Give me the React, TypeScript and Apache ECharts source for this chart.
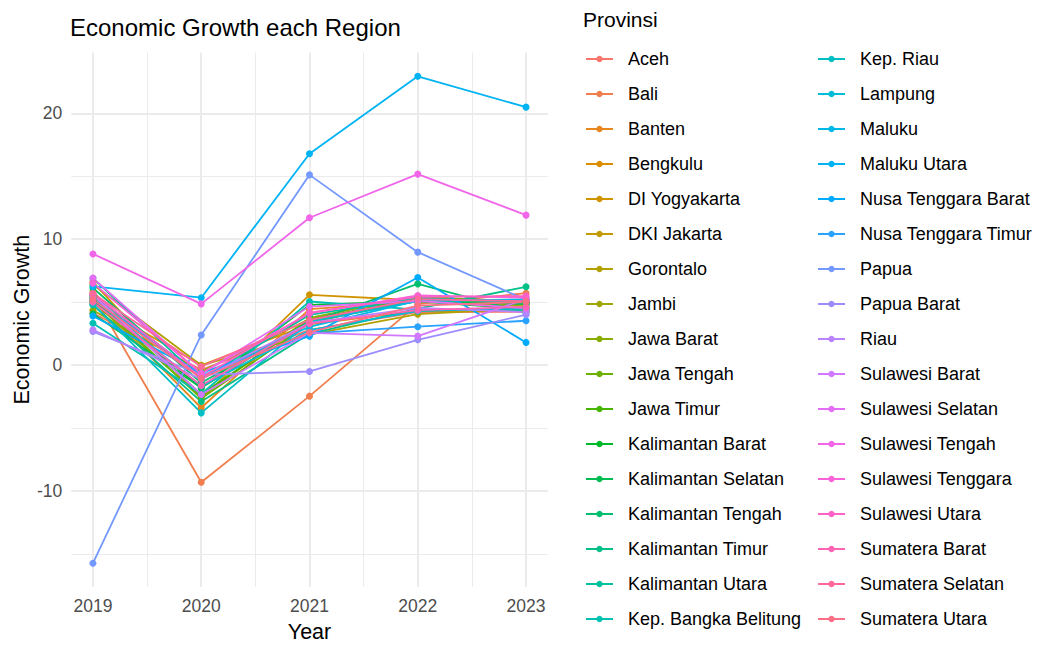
import React, { useEffect, useRef } from "react";
import * as echarts from "echarts";

const years = [2019, 2020, 2021, 2022, 2023];

const provinces = [
  "Aceh", "Bali", "Banten", "Bengkulu", "DI Yogyakarta", "DKI Jakarta", "Gorontalo",
  "Jambi", "Jawa Barat", "Jawa Tengah", "Jawa Timur", "Kalimantan Barat",
  "Kalimantan Selatan", "Kalimantan Tengah", "Kalimantan Timur", "Kalimantan Utara",
  "Kep. Bangka Belitung", "Kep. Riau", "Lampung", "Maluku", "Maluku Utara",
  "Nusa Tenggara Barat", "Nusa Tenggara Timur", "Papua", "Papua Barat", "Riau",
  "Sulawesi Barat", "Sulawesi Selatan", "Sulawesi Tengah", "Sulawesi Tenggara",
  "Sulawesi Utara", "Sumatera Barat", "Sumatera Selatan", "Sumatera Utara",
];

const growth2019 = [4.14, 5.6, 5.26, 4.94, 6.59, 5.82, 6.4, 4.35, 5.02, 5.36, 5.52, 5.09, 4.08, 6.12, 4.77, 6.89, 3.32, 4.84, 5.26, 5.57, 6.25, 3.9, 5.25, -15.74, 2.66, 2.81, 5.56, 6.91, 8.83, 6.51, 5.65, 5.01, 5.69, 5.22];
const growth2020 = [-0.37, -9.31, -3.39, -0.02, -2.69, -2.39, -0.02, -0.51, -2.52, -2.65, -2.33, -1.82, -1.81, -1.41, -2.9, -1.09, -2.3, -3.8, -1.67, -0.92, 5.35, -0.62, -0.83, 2.39, -0.77, -1.13, -2.34, -0.7, 4.86, -0.65, -0.99, -1.62, -0.11, -1.07];
const growth2021 = [2.79, -2.47, 4.44, 3.24, 5.58, 3.56, 2.41, 3.66, 3.74, 3.33, 3.57, 4.78, 3.48, 3.4, 2.48, 3.98, 5.05, 3.43, 2.77, 3.04, 16.79, 2.3, 2.51, 15.11, -0.51, 3.36, 2.56, 4.65, 11.7, 4.1, 4.16, 3.29, 3.58, 2.61];
const growth2022 = [4.21, 4.84, 5.03, 4.31, 5.15, 5.25, 4.04, 5.13, 5.45, 5.31, 5.34, 5.07, 5.11, 6.45, 4.48, 5.34, 4.4, 5.09, 4.28, 5.11, 22.94, 6.95, 3.05, 8.97, 2.01, 4.55, 2.3, 5.09, 15.17, 5.53, 5.42, 4.36, 5.23, 4.73];
const growth2023 = [4.23, 5.71, 4.81, 4.28, 5.07, 4.96, 4.5, 4.66, 5.0, 4.98, 4.95, 4.46, 4.84, 4.14, 6.22, 4.94, 4.38, 5.2, 4.55, 5.21, 20.49, 1.8, 3.52, 5.18, 4.0, 4.21, 5.23, 4.51, 11.91, 5.35, 5.48, 4.62, 5.08, 5.01];

const yMajorTicks = [-10, 0, 10, 20];
const yMinorTicks = [-15, -5, 5, 15];
const xMinorTicks = [2019.5, 2020.5, 2021.5, 2022.5];

// ggplot2 hue palette (HCL, c=100, l=65)
function hcl(h: number, c: number, l: number): string {
  const hr = (h * Math.PI) / 180;
  const u = c * Math.cos(hr);
  const v = c * Math.sin(hr);
  const Xn = 95.047, Yn = 100, Zn = 108.883;
  const Y = l > 8 ? Yn * Math.pow((l + 16) / 116, 3) : (Yn * l) / 903.3;
  const den = Xn + 15 * Yn + 3 * Zn;
  const un = (4 * Xn) / den, vn = (9 * Yn) / den;
  const up = u / (13 * l) + un;
  const vp = v / (13 * l) + vn;
  const X = (9 * Y * up) / (4 * vp);
  const Z = (Y * (12 - 3 * up - 20 * vp)) / (4 * vp);
  const x = X / 100, y = Y / 100, z = Z / 100;
  const lin = [
    3.2404542 * x - 1.5371385 * y - 0.4985314 * z,
    -0.969266 * x + 1.8760108 * y + 0.041556 * z,
    0.0556434 * x - 0.2040259 * y + 1.0572252 * z,
  ];
  return (
    "#" +
    lin
      .map((t) => {
        let g = t <= 0.0031308 ? 12.92 * t : 1.055 * Math.pow(t, 1 / 2.4) - 0.055;
        g = Math.max(0, Math.min(1, g));
        return Math.round(g * 255).toString(16).padStart(2, "0");
      })
      .join("")
  );
}

const FONT = "Liberation Sans, Arial, sans-serif";

export default function App() {
  const ref = useRef<HTMLDivElement>(null);

  useEffect(() => {
    if (!ref.current) return;
    const chart = echarts.init(ref.current, null, { renderer: "svg" });
    const n = provinces.length;
    const colors = provinces.map((_, i) => hcl(15 + (360 * i) / n, 100, 65));
    const cols = [growth2019, growth2020, growth2021, growth2022, growth2023];

    const series = provinces.map((name, i) => ({
      name,
      type: "line",
      xAxisIndex: 0,
      yAxisIndex: 0,
      data: years.map((yr, j) => [yr, cols[j][i]]),
      symbol: "circle",
      symbolSize: 7,
      showSymbol: true,
      color: colors[i],
      lineStyle: { width: 1.8, color: colors[i] },
      itemStyle: { color: colors[i] },
      emphasis: { disabled: true },
    }));

    const legendBase = {
      orient: "vertical",
      top: 49,
      padding: 0,
      itemWidth: 27,
      itemHeight: 8,
      itemGap: 15,
      selectedMode: false,
      textStyle: {
        fontFamily: FONT,
        fontSize: 18,
        color: "#000",
        lineHeight: 20,
        padding: [0, 0, 0, 10],
      },
    };

    chart.setOption({
      animation: false,
      backgroundColor: "#fff",
      color: colors,
      title: {
        text: "Economic Growth each Region",
        left: 70,
        top: 13,
        padding: 0,
        textStyle: { fontFamily: FONT, fontSize: 24, fontWeight: "normal", color: "#000", lineHeight: 28 },
      },
      legend: [
        { ...legendBase, left: 585, data: provinces.slice(0, 17) },
        { ...legendBase, left: 817, data: provinces.slice(17) },
      ],
      graphic: [
        {
          type: "text",
          left: 583,
          top: 9,
          style: { text: "Provinsi", font: `21px ${FONT}`, fill: "#000" },
        },
      ],
      grid: { left: 71.3, right: 1039 - 547.7, top: 52.5, bottom: 648 - 593.5, containLabel: false },
      xAxis: [
        {
          type: "value",
          min: 2018.8,
          max: 2023.2,
          name: "Year",
          nameLocation: "middle",
          nameGap: 34,
          nameTextStyle: { fontFamily: FONT, fontSize: 21.5, color: "#000" },
          axisLine: { show: false },
          axisTick: { show: false, customValues: years },
          axisLabel: {
            customValues: years,
            margin: 10,
            fontFamily: FONT,
            fontSize: 17.5,
            color: "#4D4D4D",
            formatter: (v: number) => String(Math.round(v)),
          },
          splitLine: { show: true, lineStyle: { color: "#EBEBEB", width: 2 } },
        },
        {
          type: "value",
          min: 2018.8,
          max: 2023.2,
          axisLine: { show: false },
          axisTick: { show: false, customValues: xMinorTicks },
          axisLabel: { show: false, customValues: xMinorTicks },
          splitLine: { show: true, lineStyle: { color: "#EBEBEB", width: 1 } },
        },
      ],
      yAxis: [
        {
          type: "value",
          min: -17.63,
          max: 24.83,
          name: "Economic Growth",
          nameLocation: "middle",
          nameRotate: 90,
          nameGap: 31,
          nameTextStyle: { fontFamily: FONT, fontSize: 21.5, color: "#000" },
          axisLine: { show: false },
          axisTick: { show: false, customValues: yMajorTicks },
          axisLabel: {
            customValues: yMajorTicks,
            margin: 9,
            fontFamily: FONT,
            fontSize: 17.5,
            color: "#4D4D4D",
          },
          splitLine: { show: true, lineStyle: { color: "#EBEBEB", width: 2 } },
        },
        {
          type: "value",
          min: -17.63,
          max: 24.83,
          axisLine: { show: false },
          axisTick: { show: false, customValues: yMinorTicks },
          axisLabel: { show: false, customValues: yMinorTicks },
          splitLine: { show: true, lineStyle: { color: "#EBEBEB", width: 1 } },
        },
      ],
      series,
    });

    return () => chart.dispose();
  }, []);

  return (
    <div
      ref={ref}
      style={{ position: "fixed", left: 0, top: 0, width: 1039, height: 648, background: "#fff" }}
    />
  );
}
